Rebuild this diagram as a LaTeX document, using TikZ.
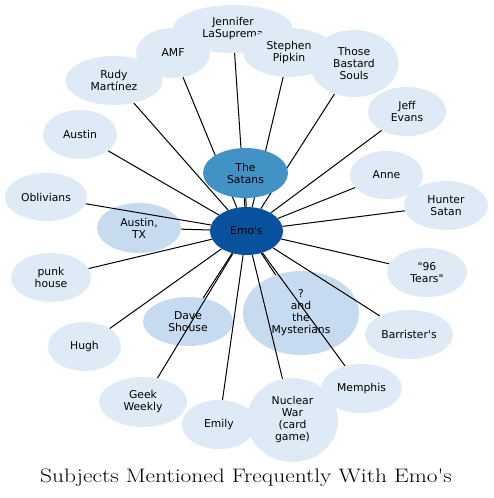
\documentclass[tikz,border=0pt]{standalone}
\usepackage{fontspec}
\newfontfamily\nodefont{DejaVu Sans}[Ligatures=TeXOff]
\newfontfamily\titlefont{Latin Modern Roman}[Ligatures=TeXOff]
\definecolor{lite}{HTML}{DEEBF7}
\definecolor{mid}{HTML}{C6DBEF}
\definecolor{satcol}{HTML}{4292C6}
\definecolor{emocol}{HTML}{08519C}
\pgfdeclarelayer{canvas}
\pgfdeclarelayer{bottom}
\pgfdeclarelayer{edges}
\pgfsetlayers{canvas,bottom,edges,main}
\tikzset{
  bub/.style={ellipse, draw=none, inner sep=0pt, align=center, text=black,
    font=\fontsize{10.8}{12}\selectfont\nodefont},
  link/.style={draw=black, line width=1pt}
}
\usetikzlibrary{shapes.geometric}
\begin{document}
\begin{tikzpicture}[x=1pt,y=-1pt]
\begin{pgfonlayer}{canvas}
\fill[white] (0,0) rectangle (493,498);
\end{pgfonlayer}
\useasboundingbox (0,0) rectangle (493,498);
\begin{pgfonlayer}{bottom}
\node[bub, fill=mid, minimum width=84, minimum height=50] (austintx) at (139,228) {Austin,\\TX};
\node[bub, fill=mid, minimum width=116, minimum height=84] (myst) at (301,313) {?\\and\\the\\Mysterians};
\node[bub, fill=mid, minimum width=90, minimum height=49] (dave) at (188,321.5) {Dave\\Shouse};
\end{pgfonlayer}
\node[bub, fill=lite, minimum width=120, minimum height=48] (jennifer) at (233,29) {Jennifer\\LaSuprema};
\node[bub, fill=lite, minimum width=74, minimum height=50] (amf) at (173,53) {AMF};
\node[bub, fill=lite, minimum width=92, minimum height=49] (stephen) at (289,52.5) {Stephen\\Pipkin};
\node[bub, fill=lite, minimum width=89, minimum height=67] (souls) at (354,63.5) {Those\\Bastard\\Souls};
\node[bub, fill=lite, minimum width=97, minimum height=49] (rudy) at (114,80.5) {Rudy\\Martínez};
\node[bub, fill=lite, minimum width=78, minimum height=49] (jeff) at (407,111.5) {Jeff\\Evans};
\node[bub, fill=lite, minimum width=74, minimum height=49] (austin) at (80,134.5) {Austin};
\node[bub, fill=lite, minimum width=73, minimum height=48] (anne) at (386.5,175) {Anne};
\node[bub, fill=lite, minimum width=84, minimum height=49] (hunter) at (446,205.5) {Hunter\\Satan};
\node[bub, fill=lite, minimum width=82, minimum height=48] (oblivians) at (46,197) {Oblivians};
\node[bub, fill=lite, minimum width=80, minimum height=49] (punk) at (51,277.5) {punk\\house};
\node[bub, fill=lite, minimum width=80, minimum height=49] (tears) at (427,272.5) {"96\\Tears"};
\node[bub, fill=lite, minimum width=88, minimum height=49] (barrister) at (409,334.5) {Barrister's};
\node[bub, fill=lite, minimum width=73, minimum height=49] (hugh) at (84.5,346.5) {Hugh};
\node[bub, fill=lite, minimum width=81, minimum height=49] (memphis) at (361.5,388.5) {Memphis};
\node[bub, fill=lite, minimum width=88, minimum height=50] (geek) at (143,402) {Geek\\Weekly};
\node[bub, fill=lite, minimum width=74, minimum height=49] (emily) at (219,424.5) {Emily};
\node[bub, fill=lite, minimum width=91, minimum height=84] (nuclear) at (292.5,420) {Nuclear\\War\\(card\\game)};
\node[bub, fill=satcol, minimum width=85, minimum height=50] (satans) at (245.5,173) {The\\Satans};
\node[bub, fill=emocol, minimum width=73, minimum height=48] (emo) at (246.5,231) {Emo's};
\begin{pgfonlayer}{edges}
\foreach \t in {austintx,myst,dave,jennifer,amf,stephen,souls,rudy,jeff,austin,anne,hunter,oblivians,punk,tears,barrister,hugh,memphis,geek,emily,nuclear,satans}
  \draw[link] (emo) -- (\t);
\end{pgfonlayer}
\node[anchor=base, xscale=1.2, font=\fontsize{19.5}{22}\selectfont\titlefont] (title) at (246,482) {Subjects Mentioned Frequently With Emo's};
\end{tikzpicture}
\end{document}
